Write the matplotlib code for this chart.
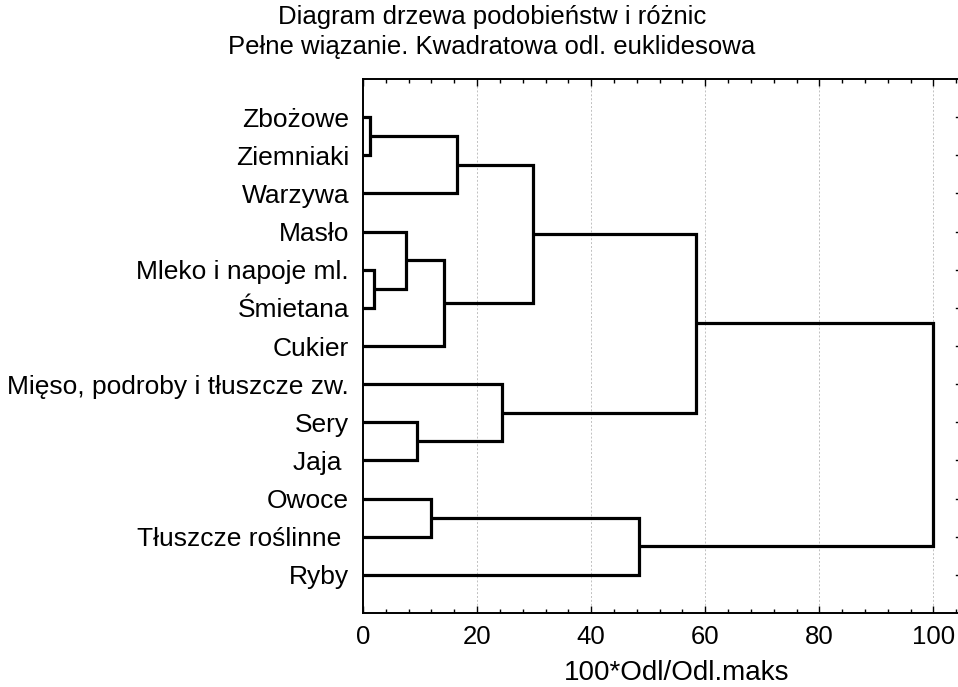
import matplotlib
matplotlib.use("Agg")
import matplotlib.pyplot as plt
from matplotlib.ticker import MultipleLocator

plt.rcParams['font.family'] = ['Liberation Sans', 'DejaVu Sans']

labels = ["Zbożowe", "Ziemniaki", "Warzywa", "Masło", "Mleko i napoje ml.",
          "Śmietana", "Cukier", "Mięso, podroby i tłuszcze zw.", "Sery", "Jaja ",
          "Owoce", "Tłuszcze roślinne ", "Ryby"]

# merges: (child a, child b, linkage distance); clusters numbered from len(labels)
merge_a = [0, 4, 3, 8, 10, 15, 13, 7, 19, 17, 21, 23]
merge_b = [1, 5, 14, 9, 11, 6, 2, 16, 18, 12, 20, 22]
merge_h = [1.3, 2.0, 7.5, 9.5, 11.9, 14.2, 16.4, 24.3, 29.8, 48.4, 58.4, 100.0]

n = len(labels)
pos = {i: i + 1 for i in range(n)}
height = {i: 0.0 for i in range(n)}

fig = plt.figure(figsize=(9.58, 6.87), dpi=100)
# right spine sits just outside the picture, as in the original
ax = fig.add_axes([363 / 958, 1 - 613 / 687, (962 - 363) / 958, (613 - 79) / 687])

for k, (a, b, h) in enumerate(zip(merge_a, merge_b, merge_h)):
    ya, yb = pos[a], pos[b]
    ax.plot([height[a], h, h, height[b]], [ya, ya, yb, yb], color='black',
            lw=2.3, solid_joinstyle='miter', solid_capstyle='butt', zorder=3)
    pos[n + k] = (ya + yb) / 2
    height[n + k] = h

ax.set_xlim(0, 105)
ax.set_ylim(n + 1, 0)
ax.set_yticks(range(1, n + 1))
ax.set_yticklabels(labels, fontsize=19)
ax.set_xticks([0, 20, 40, 60, 80, 100])
ax.xaxis.set_minor_locator(MultipleLocator(4))
ax.tick_params(axis='x', which='major', direction='in', length=5, width=1,
               top=True, labelsize=18.5, pad=9)
ax.tick_params(axis='x', which='minor', direction='in', length=3, width=1, top=True)
ax.tick_params(axis='y', which='major', direction='in', length=0, pad=10)

# small dots at the right edge for each leaf
for y in range(1, n + 1):
    ax.plot([104.0, 104.4], [y, y], color='black', lw=1, zorder=2)

for g in [20, 40, 60, 80, 100]:
    ax.axvline(g, color='#c0c0c0', lw=0.7, ls=(0, (2, 2)), zorder=1)

for s in ax.spines.values():
    s.set_linewidth(1.4)

fig.text(492 / 958, 1 - 17 / 687, "Diagram drzewa podobieństw i różnic",
         ha='center', va='center', fontsize=18.5)
fig.text(492 / 958, 1 - 47 / 687, "Pełne wiązanie. Kwadratowa odl. euklidesowa",
         ha='center', va='center', fontsize=18.5)
fig.text(677 / 958, 1 - 673 / 687, "100*Odl/Odl.maks",
         ha='center', va='center', fontsize=20)

fig.savefig("out.png", dpi=100)
